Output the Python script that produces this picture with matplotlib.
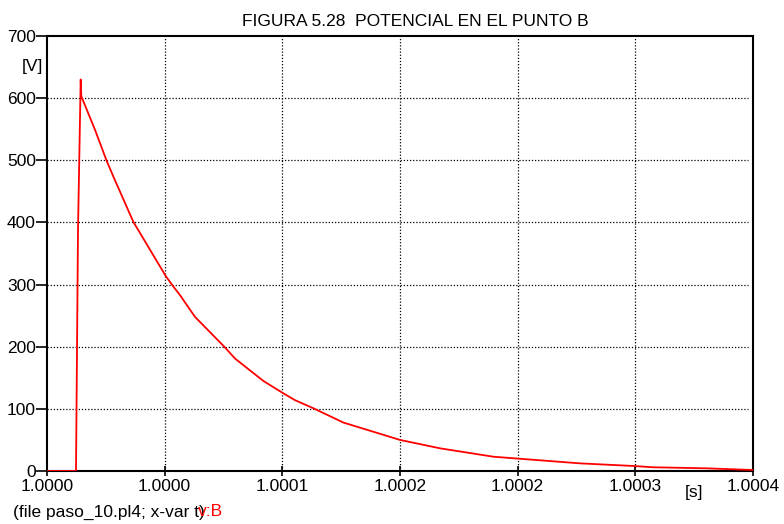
import matplotlib
matplotlib.use("Agg")
import matplotlib.pyplot as plt

plt.rcParams['font.family'] = ['Liberation Sans', 'DejaVu Sans']

# time in microseconds from start of window
t_us = [0, 14.79, 15.81, 17.18, 17.5, 24.48, 30.44, 33.81, 44.01, 60.68, 64.40,
        67.82, 75.47, 90.41, 95.86, 110.30, 120.49, 126.46, 135.79, 151.09,
        180.0, 200.4, 227.6, 239.9, 271.8, 299.5, 309.0, 336.4, 359.9]
v_B = [0, 0, 388, 630, 603, 549, 499, 474, 401, 313, 297,
       283, 248, 200, 181, 145, 125, 114, 101, 78,
       50, 36.5, 23, 20, 12.3, 8, 6, 4.3, 1.6]

x_ticks = [0, 60, 120, 180, 240, 300, 360]
x_labels = ["1.0000", "1.0000", "1.0001", "1.0002", "1.0002", "1.0003", "1.0004"]
y_ticks = [0, 100, 200, 300, 400, 500, 600, 700]
y_labels = ["0", "100", "200", "300", "400", "500", "600", "700"]

FS = 12.5

fig = plt.figure(figsize=(7.84, 5.24), dpi=100)
ax = fig.add_axes([47/784, 1-471/524, (753-47)/784, (471-36)/524])

ax.plot(t_us, v_B, color='#ff0000', lw=1.3, zorder=3)

ax.set_xlim(0, 360)
ax.set_ylim(0, 700)
ax.set_xticks(x_ticks)
ax.set_xticklabels(x_labels)
ax.set_yticks(y_ticks)
ax.set_yticklabels(y_labels)

for xv in x_ticks[1:-1]:
    ax.axvline(xv, color='black', lw=0.9, ls=(0, (1, 1.5)), zorder=1)
for yv in y_ticks[1:-1]:
    ax.axhline(yv, color='black', lw=0.9, ls=(0, (1, 1.5)), zorder=1, xmax=0.993)

for s in ax.spines.values():
    s.set_linewidth(1.5)
    s.set_color('black')

ax.tick_params(axis='y', direction='out', length=8, width=1.2, labelsize=FS, pad=0)
ax.tick_params(axis='x', direction='inout', length=7, width=1.2, labelsize=FS, pad=2)

fig.text(415.5/784, 1-21/524, "FIGURA 5.28  POTENCIAL EN EL PUNTO B", ha='center', va='center', fontsize=FS)
fig.text(43/784, 1-67/524, "[V]", ha='right', va='center', fontsize=FS)
fig.text(694/784, 1-493/524, "[s]", ha='center', va='center', fontsize=FS)
fig.text(13/784, 1-512/524, "(file paso_10.pl4; x-var t)", ha='left', va='center', fontsize=FS)
fig.text(198/784, 1-512/524, "v:B", ha='left', va='center', fontsize=FS, color='#ff0000')

fig.savefig("out.png", dpi=100)
